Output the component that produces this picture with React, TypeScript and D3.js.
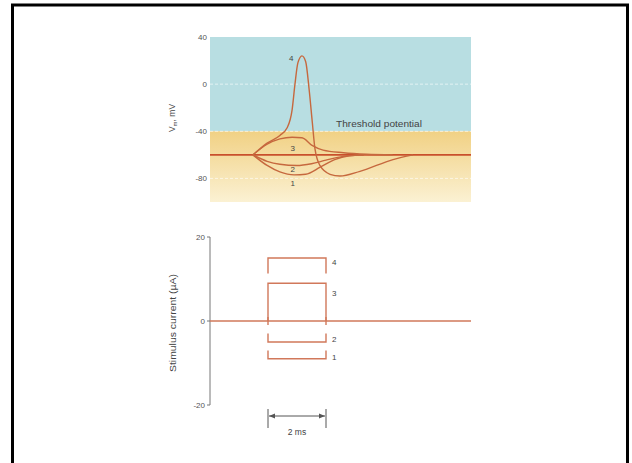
import React from "react";
import * as d3 from "d3";

// ---------- data ----------
const timeDomain: [number, number] = [0, 9]; // ms
const vmDomain: [number, number] = [-100, 40]; // mV
const vmTicks = [40, 0, -40, -80];
const restingPotential = -60;
const thresholdPotential = -40;

// membrane potential traces [t (ms), Vm (mV)]
const trace1: [number, number][] = [[1.48, -60], [1.97, -69], [2.41, -74.5], [2.9, -77], [3.3, -76.5], [3.8, -70.5], [4.3, -64], [4.8, -60.8], [5.3, -60]];
const trace2: [number, number][] = [[1.48, -60], [1.97, -65.5], [2.41, -68], [3.0, -69], [3.5, -67.5], [4.0, -64.5], [4.6, -61.3], [5.3, -60]];
const trace3: [number, number][] = [[1.48, -60], [1.97, -51], [2.41, -46.5], [2.83, -45], [3.17, -45.5], [3.52, -52], [3.9, -56], [4.6, -58.2], [5.4, -59.5], [6.3, -60]];
const trace4: [number, number][] = [[1.48, -60], [1.97, -50], [2.41, -43.5], [2.66, -37], [2.83, -22], [2.93, 0], [3.03, 18], [3.17, 24], [3.3, 19], [3.42, -5], [3.53, -33], [3.62, -55], [3.79, -69], [4.14, -76.5], [4.48, -78], [5.17, -74], [6.31, -64], [7.0, -60]];
const traces = [trace1, trace2, trace3, trace4];
const traceLabels = ["1", "2", "3", "4"];
const traceLabelVm = [-84, -72.5, -54, 22];
const traceLabelT = [2.85, 2.85, 2.85, 2.8];

// stimulus current
const currentDomain: [number, number] = [-20, 20]; // µA
const currentTicks = [20, 0, -20];
const pulseStart = 2; // ms
const pulseEnd = 4; // ms
const pulseAmplitude = [-9, -5, 9, 15];
const pulseSideEnd = [-7, -3, 0, 11.3];
const pulseLabelValue = [-8.5, -4.3, 6.6, 14];
const scaleBarLabel = "2 ms";

export default function App() {
  const W = 632;
  const H = 463;
  const x = d3.scaleLinear().domain(timeDomain).range([210, 471]);
  const yV = d3.scaleLinear().domain(vmDomain).range([202, 37]);
  const yI = d3.scaleLinear().domain(currentDomain).range([405, 237]);

  const line = d3
    .line<[number, number]>()
    .x((d) => x(d[0]))
    .y((d) => yV(d[1]))
    .curve(d3.curveMonotoneX);

  const traceColor = "#c6683e";
  const stimColor = "#d1785a";
  const textColor = "#444";
  const font = "'Liberation Sans', Arial, sans-serif";

  const x0 = x(timeDomain[0]);
  const x1 = x(timeDomain[1]);
  const xs = x(pulseStart);
  const xe = x(pulseEnd);

  return (
    <svg
      width={W}
      height={H}
      style={{ position: "absolute", left: 0, top: 0, background: "#fff" }}
      fontFamily={font}
    >
      <defs>
        <linearGradient id="yel" x1="0" y1="0" x2="0" y2="1">
          <stop offset="0" stopColor="#f1d184" />
          <stop offset="1" stopColor="#fbf1d3" />
        </linearGradient>
      </defs>
      {/* frame */}
      <path d={`M12.5 ${H} V5 H627.5 V${H}`} fill="none" stroke="#000" strokeWidth={3} />

      {/* ---------- upper panel ---------- */}
      <rect x={x0} y={yV(40)} width={x1 - x0} height={yV(thresholdPotential) - yV(40)} fill="#b8dee2" />
      <rect x={x0} y={yV(thresholdPotential)} width={x1 - x0} height={yV(-100) - yV(thresholdPotential)} fill="url(#yel)" />
      {[0, thresholdPotential, -80].map((v) => (
        <line key={v} x1={x0} x2={x1} y1={yV(v)} y2={yV(v)} stroke="#fff" strokeOpacity={0.6} strokeWidth={1} strokeDasharray="3 2" />
      ))}
      {vmTicks.map((v) => (
        <text key={v} x={207} y={yV(v)} dy="0.35em" textAnchor="end" fontSize={8} fill="#555">
          {v}
        </text>
      ))}
      <text transform={`translate(175,118) rotate(-90)`} textAnchor="middle" fontSize={8.5} fill={textColor}>
        V<tspan fontSize={6} dy={2}>m</tspan>
        <tspan dy={-2}>, mV</tspan>
      </text>
      <line x1={x0} x2={x1} y1={yV(restingPotential)} y2={yV(restingPotential)} stroke="#c9502c" strokeWidth={1.8} />
      {traces.map((t, i) => (
        <path key={i} d={line(t) ?? ""} fill="none" stroke={traceColor} strokeWidth={1.4} />
      ))}
      {traceLabels.map((l, i) => (
        <text key={l} x={x(traceLabelT[i])} y={yV(traceLabelVm[i])} dy="0.35em" textAnchor="middle" fontSize={8} fill={textColor}>
          {l}
        </text>
      ))}
      <text x={336} y={yV(-33.5)} dy="0.35em" fontSize={9.5} textLength={86} lengthAdjust="spacingAndGlyphs" fill={textColor}>
        Threshold potential
      </text>

      {/* ---------- lower panel ---------- */}
      <line x1={210} x2={210} y1={yI(20)} y2={yI(-20)} stroke="#777" strokeWidth={1} />
      {currentTicks.map((v) => (
        <g key={v}>
          <line x1={207} x2={210} y1={yI(v)} y2={yI(v)} stroke="#777" strokeWidth={1} />
          <text x={205} y={yI(v)} dy="0.35em" textAnchor="end" fontSize={8} fill="#555">
            {v}
          </text>
        </g>
      ))}
      <text
        transform={`translate(176,${yI(0) + 2}) rotate(-90)`}
        textAnchor="middle"
        fontSize={9}
        textLength={98}
        lengthAdjust="spacingAndGlyphs"
        fill={textColor}
      >
        Stimulus current (µA)
      </text>
      <line x1={x0} x2={x1} y1={yI(0)} y2={yI(0)} stroke={stimColor} strokeWidth={1.4} />
      {[xs, xe].map((px) => (
        <line key={px} x1={px} x2={px} y1={yI(0) - 4} y2={yI(0) + 4} stroke={stimColor} strokeWidth={1.4} />
      ))}
      {pulseAmplitude.map((a, i) => (
        <g key={i}>
          <path
            d={`M${xs} ${yI(pulseSideEnd[i])} V${yI(a)} H${xe} V${yI(pulseSideEnd[i])}`}
            fill="none"
            stroke={stimColor}
            strokeWidth={1.4}
          />
          <text x={xe + 6} y={yI(pulseLabelValue[i])} dy="0.35em" fontSize={8} fill={textColor}>
            {traceLabels[i]}
          </text>
        </g>
      ))}

      {/* scale bar */}
      <g stroke="#555" strokeWidth={1}>
        <line x1={xs} x2={xs} y1={409} y2={428} />
        <line x1={xe} x2={xe} y1={409} y2={428} />
        <line x1={xs + 1} x2={xe - 1} y1={416} y2={416} />
      </g>
      <path d={`M${xs + 1} 416 l6 -2.5 v5 Z M${xe - 1} 416 l-6 -2.5 v5 Z`} fill="#555" />
      <text x={(xs + xe) / 2} y={432} dy="0.35em" textAnchor="middle" fontSize={8.5} fill={textColor}>
        {scaleBarLabel}
      </text>
    </svg>
  );
}
